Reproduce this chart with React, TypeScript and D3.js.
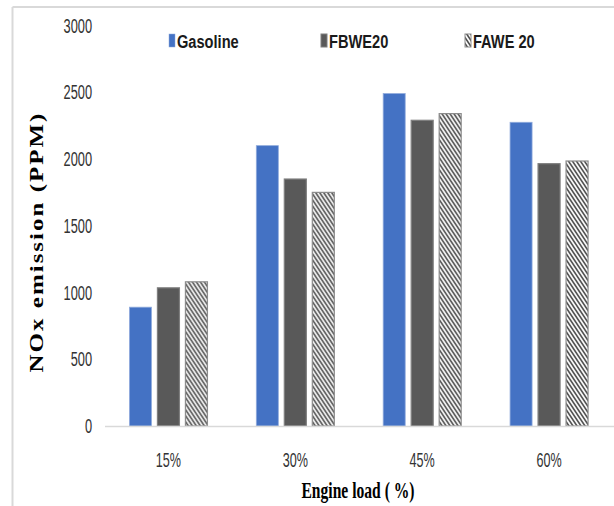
import React from "react";
import * as d3 from "d3";

const categories = ["15%", "30%", "45%", "60%"];
const seriesNames = ["Gasoline", "FBWE20", "FAWE 20"];
const gasoline = [890, 2100, 2490, 2275];
const fbwe20 = [1035, 1850, 2290, 1965];
const fawe20 = [1080, 1750, 2340, 1985];
const yTicks = [0, 500, 1000, 1500, 2000, 2500, 3000];

const W = 614;
const H = 506;

const fills = ["#4472C4", "#595959", "url(#hatch)"];
const strokes = ["#8faadc", "#7f7f7f", "#8c8c8c"];

function SText({ x, y, sx = 1, anchor = "start", size, weight = "normal", family, fill = "#222", children, spacing = 0 }: any) {
  return (
    <text
      transform={`translate(${x},${y}) scale(${sx},1)`}
      textAnchor={anchor}
      fontSize={size}
      fontWeight={weight}
      fontFamily={family}
      fill={fill}
      letterSpacing={spacing}
    >
      {children}
    </text>
  );
}

export default function App() {
  const data = [gasoline, fbwe20, fawe20];
  const x = d3.scaleBand().domain(categories).range([105, 612.5]).padding(0);
  const xi = d3.scaleBand().domain(seriesNames).range([-39, 39]).paddingInner(0.214).paddingOuter(0);
  const y = d3.scaleLinear().domain([0, 3000]).range([426, 25.5]);

  const sansF = "'Liberation Sans', Arial, sans-serif";
  const serifF = "'Liberation Serif', 'Times New Roman', serif";

  const legendX = [169, 321, 465];

  return (
    <svg width={W} height={H} style={{ position: "absolute", left: 0, top: 0, background: "#fff" }}>
      <defs>
        <pattern id="hatch" patternUnits="userSpaceOnUse" width={4} height={6}>
          <rect width={4} height={6} fill="#ffffff" />
          <path d="M-1,-1.5 L5,7.5 M-5,-1.5 L1,7.5 M3,-1.5 L9,7.5" stroke="#4d4d4d" strokeWidth={1.6} />
        </pattern>
      </defs>
      {/* frame */}
      <line x1={12.5} y1={7} x2={W} y2={7} stroke="#d9d9d9" strokeWidth={2} />
      <line x1={12.5} y1={7} x2={12.5} y2={H} stroke="#d9d9d9" strokeWidth={2} />

      {/* y tick labels */}
      {yTicks.map((t) => (
        <SText key={t} x={92} y={y(t) + 7.2} sx={0.64} anchor="end" size={20} family={sansF} fill="#333">
          {t}
        </SText>
      ))}

      {/* bars */}
      {categories.map((c, ci) => (
        <g key={c} transform={`translate(${(x(c) as number) + x.bandwidth() / 2},0)`}>
          {seriesNames.map((s, si) => (
            <rect
              key={s}
              x={xi(s) as number}
              y={y(data[si][ci])}
              width={xi.bandwidth()}
              height={y(0) - y(data[si][ci])}
              fill={fills[si]}
              stroke={strokes[si]}
              strokeWidth={si === 0 ? 0.8 : 1.2}
            />
          ))}
        </g>
      ))}

      {/* x axis line */}
      <line x1={105} y1={426.5} x2={W} y2={426.5} stroke="#d9d9d9" strokeWidth={1.5} />

      {/* x tick labels */}
      {categories.map((c) => (
        <SText key={c} x={(x(c) as number) + x.bandwidth() / 2} y={467} sx={0.63} anchor="middle" size={20} family={sansF} fill="#333">
          {c}
        </SText>
      ))}

      {/* legend */}
      {seriesNames.map((s, si) => (
        <g key={s}>
          <rect x={legendX[si]} y={34} width={6} height={13} fill={fills[si]} stroke={strokes[si]} strokeWidth={si === 0 ? 0.5 : 1} />
          <SText x={legendX[si] + 8} y={48} sx={0.77} size={19} weight="bold" family={sansF} fill="#1a1a1a">
            {s}
          </SText>
        </g>
      ))}

      {/* axis titles */}
      <SText x={358} y={498} sx={0.65} anchor="middle" size={24} weight="bold" family={serifF} fill="#000">
        Engine load ( %)
      </SText>
      <text
        transform={`translate(43,242) scale(0.79,1) rotate(-90)`}
        textAnchor="middle"
        fontSize={25}
        fontWeight="bold"
        fontFamily={serifF}
        letterSpacing={2}
        fill="#000"
      >
        NOx emission (PPM)
      </text>
    </svg>
  );
}
